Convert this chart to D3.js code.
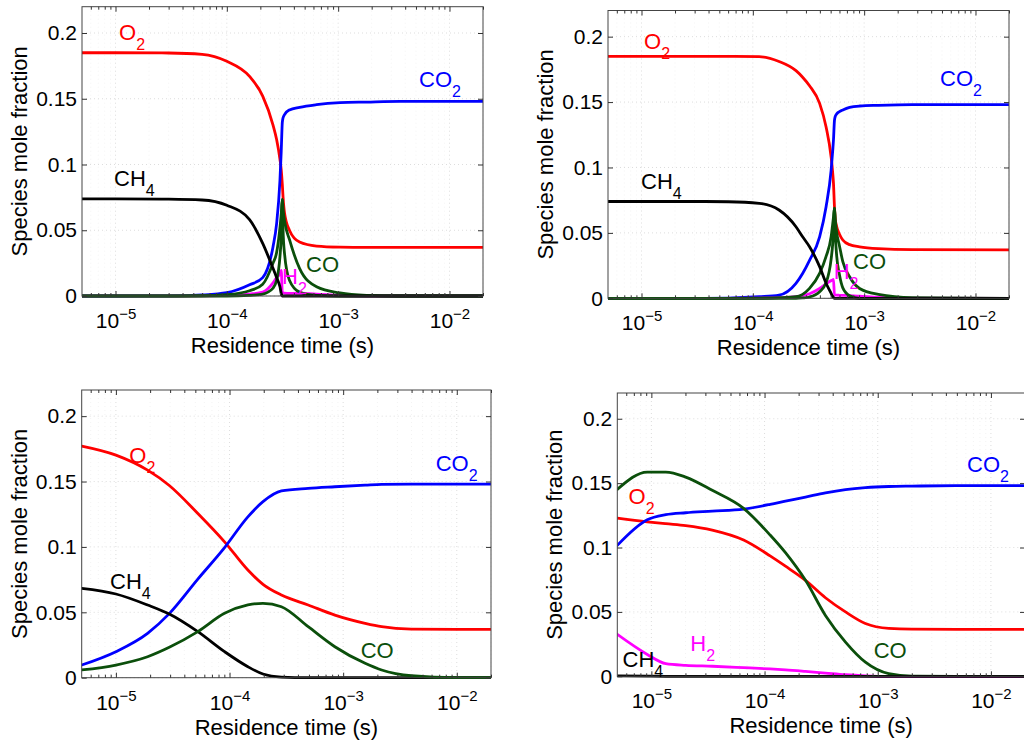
<!DOCTYPE html>
<html><head><meta charset="utf-8">
<script src="https://cdn.jsdelivr.net/npm/d3@7"></script>
<style>
body{margin:0;background:#fff;}
svg{display:block;font-family:"Liberation Sans",Arial,Helvetica,sans-serif;}
</style></head><body>
<svg id="chart" width="1024" height="745"></svg>
<script>
// ---------- tick data ----------
const xTicks = [1e-5, 1e-4, 1e-3, 1e-2];
const xTickExps = ["\u22125", "\u22124", "\u22123", "\u22122"];
const yTicks = [0, 0.05, 0.1, 0.15, 0.2];
const yTickLabels = ["0", "0.05", "0.1", "0.15", "0.2"];
const xDomain = [5e-6, 2e-2];
const yDomain = [0, 0.22];
const xTitle = "Residence time (s)";
const yTitle = "Species mole fraction";

// ---------- panel 1 (top-left) ----------
const p1Time = [5e-6, 1e-5, 3e-5, 6e-5, 1e-4, 1.6e-4, 2.1e-4, 2.6e-4, 2.8e-4, 3.0e-4, 3.08e-4, 3.15e-4, 3.2e-4, 3.3e-4, 3.65e-4, 4.5e-4, 6.4e-4, 1.04e-3, 1.8e-3, 3.6e-3, 2e-2];
const p1O2  = [0.185, 0.185, 0.1848, 0.1838, 0.1785, 0.167, 0.152, 0.130, 0.119, 0.104, 0.096, 0.085, 0.075, 0.063, 0.050, 0.041, 0.038, 0.0372, 0.037, 0.037, 0.037];
const p1CO2 = [0, 0, 0.0001, 0.0008, 0.0025, 0.0085, 0.014, 0.0375, 0.055, 0.088, 0.11, 0.132, 0.1355, 0.138, 0.1415, 0.1435, 0.1455, 0.147, 0.1475, 0.148, 0.148];
const p1CH4 = [0.0738, 0.0738, 0.0736, 0.073, 0.069, 0.058, 0.040, 0.021, 0.014, 0.007, 0.002, 0, 0, 0, 0, 0, 0, 0, 0, 0, 0];
const p1CO  = [0, 0, 0, 0.0002, 0.001, 0.004, 0.009, 0.025, 0.033, 0.052, 0.062, 0.0735, 0.066, 0.057, 0.043, 0.021, 0.007, 0.0023, 0.0005, 0, 0];
const p1COb = [0, 0, 0, 0, 0, 0.0005, 0.0015, 0.006, 0.012, 0.030, 0.045, 0.0735, 0.05, 0.032, 0.012, 0.003, 0.0005, 0, 0, 0, 0];
const p1H2  = [0, 0, 0, 0.0001, 0.0005, 0.0015, 0.003, 0.010, 0.014, 0.017, 0.0195, 0.003, 0.0025, 0.0022, 0.002, 0.002, 0.0015, 0.0003, 0, 0, 0];

// ---------- panel 2 (top-right) ----------
const p2Time = [5e-6, 1e-5, 3e-5, 6e-5, 1.14e-4, 1.72e-4, 2.44e-4, 2.8e-4, 3.23e-4, 3.98e-4, 4.55e-4, 5.05e-4, 5.22e-4, 5.3e-4, 5.41e-4, 5.5e-4, 5.67e-4, 6.0e-4, 6.43e-4, 7.4e-4, 9.1e-4, 1.34e-3, 2.7e-3, 2e-2];
const p2O2  = [0.185, 0.185, 0.185, 0.1849, 0.1847, 0.181, 0.174, 0.169, 0.1625, 0.149, 0.131, 0.108, 0.0956, 0.088, 0.070, 0.061, 0.0547, 0.049, 0.0446, 0.041, 0.0394, 0.038, 0.0372, 0.037];
const p2CO2 = [0, 0, 0, 0.0002, 0.0012, 0.0025, 0.0115, 0.019, 0.029, 0.047, 0.070, 0.098, 0.113, 0.121, 0.136, 0.139, 0.141, 0.1427, 0.144, 0.146, 0.147, 0.1475, 0.148, 0.148];
const p2CH4 = [0.074, 0.074, 0.074, 0.0738, 0.0726, 0.0675, 0.0547, 0.047, 0.0394, 0.0242, 0.0115, 0.0038, 0.0015, 0.0007, 0, 0, 0, 0, 0, 0, 0, 0, 0, 0];
const p2CO  = [0, 0, 0, 0, 0.0002, 0.0005, 0.0012, 0.003, 0.0076, 0.019, 0.032, 0.047, 0.057, 0.062, 0.069, 0.060, 0.050, 0.040, 0.028, 0.0165, 0.0075, 0.003, 0.0005, 0];
const p2COb = [0, 0, 0, 0, 0, 0, 0, 0.0003, 0.001, 0.005, 0.012, 0.030, 0.042, 0.052, 0.069, 0.050, 0.032, 0.018, 0.008, 0.002, 0, 0, 0, 0];
const p2H2  = [0, 0, 0, 0, 0.0002, 0.0005, 0.0012, 0.002, 0.0035, 0.0075, 0.011, 0.0135, 0.014, 0.0145, 0.0025, 0.0025, 0.0024, 0.0023, 0.0022, 0.002, 0.0016, 0.0008, 0.0001, 0];

// ---------- panel 3 (bottom-left) ----------
const p3Time = [5e-6, 1e-5, 1.9e-5, 2.95e-5, 5.26e-5, 9.04e-5, 1.45e-4, 1.97e-4, 2.86e-4, 4.92e-4, 8.45e-4, 1.56e-3, 2.18e-3, 3.98e-3, 1e-2, 2e-2];
const p3O2  = [0.1771, 0.1702, 0.1587, 0.147, 0.1256, 0.1039, 0.0823, 0.0714, 0.0632, 0.0556, 0.0479, 0.0416, 0.039, 0.0372, 0.037, 0.037];
const p3CO2 = [0.0097, 0.0199, 0.0339, 0.049, 0.0754, 0.0995, 0.123, 0.1346, 0.1428, 0.1448, 0.146, 0.1472, 0.1478, 0.148, 0.148, 0.148];
const p3CH4 = [0.0683, 0.064, 0.0556, 0.0487, 0.0352, 0.0199, 0.0084, 0.0028, 0.0005, 0, 0, 0, 0, 0, 0, 0];
const p3CO  = [0.0059, 0.0097, 0.016, 0.0232, 0.0352, 0.0492, 0.0556, 0.0569, 0.0543, 0.039, 0.0237, 0.011, 0.0059, 0.0015, 0, 0];

// ---------- panel 4 (bottom-right) ----------
const p4Time = [5e-6, 9.2e-6, 1.34e-5, 2.01e-5, 3.45e-5, 6.53e-5, 1.12e-4, 1.53e-4, 2.3e-4, 3.45e-4, 5.19e-4, 7.78e-4, 1.25e-3, 2e-3, 5e-3, 2e-2];
const p4O2  = [0.1229, 0.120, 0.1185, 0.117, 0.1135, 0.1058, 0.0935, 0.0855, 0.0745, 0.061, 0.050, 0.041, 0.0372, 0.0366, 0.0365, 0.0365];
const p4CO2 = [0.1017, 0.1216, 0.1255, 0.127, 0.1283, 0.1299, 0.1335, 0.136, 0.1392, 0.1425, 0.145, 0.1465, 0.1474, 0.1477, 0.148, 0.148];
const p4CO  = [0.1452, 0.1586, 0.1586, 0.1547, 0.1444, 0.1304, 0.1097, 0.096, 0.0745, 0.0473, 0.0266, 0.011, 0.0021, 0.0002, 0, 0];
const p4H2  = [0.0326, 0.017, 0.0098, 0.0085, 0.0078, 0.0067, 0.0057, 0.005, 0.0038, 0.0025, 0.0012, 0.0004, 0, 0, 0, 0];
const p4CH4 = [0.0004, 0.0001, 0, 0, 0, 0, 0, 0, 0, 0, 0, 0, 0, 0, 0, 0];

// ---------- styles ----------
const colors = { O2: "#ff0000", CO2: "#0000ff", CH4: "#000000", CO: "#0b4f0b", H2: "#ff00ff" };

const panels = [
  { box: { l: 82, r: 483, t: 6.7, b: 296 }, time: p1Time,
    series: [["O2", p1O2], ["CO2", p1CO2], ["H2", p1H2], ["CO", p1COb], ["CO", p1CO], ["CH4", p1CH4]],
    labels: [["O2", "O", "2", 119, 40], ["CO2", "CO", "2", 419, 87], ["CH4", "CH", "4", 114, 186], ["CO", "CO", "", 306, 272], ["H2", "H", "2", 282, 284]] },
  { box: { l: 608, r: 1009, t: 10.5, b: 298.3 }, time: p2Time,
    series: [["O2", p2O2], ["CO2", p2CO2], ["H2", p2H2], ["CO", p2COb], ["CO", p2CO], ["CH4", p2CH4]],
    labels: [["O2", "O", "2", 644, 49.3], ["CO2", "CO", "2", 940, 86], ["CH4", "CH", "4", 641, 189], ["CO", "CO", "", 853, 268.7], ["H2", "H", "2", 833.7, 279.3]] },
  { box: { l: 81.7, r: 491, t: 390, b: 677.7 }, time: p3Time,
    series: [["O2", p3O2], ["CO2", p3CO2], ["CH4", p3CH4], ["CO", p3CO]],
    labels: [["O2", "O", "2", 129.3, 462.7], ["CO2", "CO", "2", 435.7, 471.3], ["CH4", "CH", "4", 110, 589.3], ["CO", "CO", "", 360.7, 657.7]] },
  { box: { l: 617.3, r: 1025, t: 393, b: 676.3 }, time: p4Time,
    series: [["O2", p4O2], ["CO2", p4CO2], ["CO", p4CO], ["H2", p4H2], ["CH4", p4CH4]],
    labels: [["O2", "O", "2", 628.5, 504], ["CO2", "CO", "2", 967, 472], ["H2", "H", "2", 690.3, 651], ["CH4", "CH", "4", 622.5, 666.5], ["CO", "CO", "", 873.7, 658]] }
];

const svg = d3.select("#chart");
const defs = svg.append("defs");
const FONT = "'Liberation Sans', Arial, Helvetica, sans-serif";

// minor log ticks
const minorTicks = [];
for (let e = -6; e <= -2; e++) for (let k = 2; k <= 9; k++) {
  const v = k * Math.pow(10, e);
  if (v >= xDomain[0] && v <= xDomain[1]) minorTicks.push(v);
}

panels.forEach((p, pi) => {
  const B = p.box;
  const x = d3.scaleLog().domain(xDomain).range([B.l, B.r]);
  const y = d3.scaleLinear().domain(yDomain).range([B.b, B.t]);
  const g = svg.append("g");

  // grid
  const grid = g.append("g");
  grid.selectAll(".gm").data(minorTicks).enter().append("line")
    .attr("x1", d => x(d)).attr("x2", d => x(d)).attr("y1", B.t).attr("y2", B.b)
    .attr("stroke", "#f3f3f3").attr("stroke-width", 1).attr("stroke-dasharray", "1,3");
  grid.selectAll(".gx").data(xTicks).enter().append("line")
    .attr("x1", d => x(d)).attr("x2", d => x(d)).attr("y1", B.t).attr("y2", B.b)
    .attr("stroke", "#dddddd").attr("stroke-width", 1).attr("stroke-dasharray", "1,3");
  grid.selectAll(".gy").data(yTicks).enter().append("line")
    .attr("x1", B.l).attr("x2", B.r).attr("y1", d => y(d)).attr("y2", d => y(d))
    .attr("stroke", "#dddddd").attr("stroke-width", 1).attr("stroke-dasharray", "1,3");

  // clip
  defs.append("clipPath").attr("id", "clip" + pi).append("rect")
    .attr("x", B.l).attr("y", B.t - 2).attr("width", B.r - B.l).attr("height", B.b - B.t + 4);

  // lines
  const line = d3.line().x(d => x(d[0])).y(d => y(d[1])).curve(d3.curveMonotoneX);
  const lg = g.append("g").attr("clip-path", "url(#clip" + pi + ")");
  p.series.forEach(([name, vals]) => {
    lg.append("path").datum(p.time.map((t, i) => [t, vals[i]]))
      .attr("d", line).attr("fill", "none").attr("stroke", colors[name])
      .attr("stroke-width", 2.8).attr("stroke-linejoin", "round").attr("stroke-linecap", "round");
  });

  // box
  g.append("rect").attr("x", B.l).attr("y", B.t).attr("width", B.r - B.l).attr("height", B.b - B.t)
    .attr("fill", "none").attr("stroke", "#444").attr("stroke-width", 1);

  const axStyle = sel => { sel.select(".domain").remove(); sel.selectAll(".tick line").attr("stroke", "#333"); };

  // bottom axis (major with labels)
  const axB = g.append("g").attr("transform", `translate(0,${B.b})`)
    .call(d3.axisBottom(x).tickValues(xTicks).tickSizeInner(-5).tickSizeOuter(0).tickFormat(() => ""));
  axStyle(axB);
  axB.selectAll(".tick text").each(function (d, i) {
    const t = d3.select(this);
    t.text(null).attr("y", 32).attr("dy", null).attr("fill", "#000")
      .attr("font-size", 21).attr("font-family", FONT).attr("text-anchor", "middle");
    t.append("tspan").text("10");
    t.append("tspan").attr("dy", -9).attr("font-size", 15).text(xTickExps[i]);
  });
  axStyle(g.append("g").attr("transform", `translate(0,${B.b})`)
    .call(d3.axisBottom(x).tickValues(minorTicks).tickSizeInner(-3).tickSizeOuter(0).tickFormat(() => "")));
  // top axis
  axStyle(g.append("g").attr("transform", `translate(0,${B.t})`)
    .call(d3.axisTop(x).tickValues(xTicks).tickSizeInner(-5).tickSizeOuter(0).tickFormat(() => "")));
  axStyle(g.append("g").attr("transform", `translate(0,${B.t})`)
    .call(d3.axisTop(x).tickValues(minorTicks).tickSizeInner(-3).tickSizeOuter(0).tickFormat(() => "")));
  // left axis
  const axL = g.append("g").attr("transform", `translate(${B.l},0)`)
    .call(d3.axisLeft(y).tickValues(yTicks).tickSizeInner(-5).tickSizeOuter(0).tickPadding(5)
      .tickFormat((d, i) => yTickLabels[i]));
  axStyle(axL);
  axL.selectAll(".tick text").attr("font-size", 21).attr("fill", "#000").attr("font-family", FONT);
  // right axis
  axStyle(g.append("g").attr("transform", `translate(${B.r},0)`)
    .call(d3.axisRight(y).tickValues(yTicks).tickSizeInner(-5).tickSizeOuter(0).tickFormat(() => "")));

  // axis titles
  g.append("text").attr("x", (B.l + B.r) / 2).attr("y", B.b + 57).attr("text-anchor", "middle")
    .attr("font-size", 22).attr("fill", "#000").text(xTitle);
  g.append("text").attr("transform", `translate(${B.l - 55},${(B.t + B.b) / 2}) rotate(-90)`)
    .attr("text-anchor", "middle").attr("font-size", 22).attr("fill", "#000").text(yTitle);

  // species labels
  p.labels.forEach(([name, base, sub, lx, ly]) => {
    const t = g.append("text").attr("x", lx).attr("y", ly).attr("fill", colors[name]).attr("font-size", 22);
    t.append("tspan").text(base);
    if (sub) t.append("tspan").attr("dy", 10).attr("font-size", 16).text(sub);
  });
});
</script>
</body></html>
